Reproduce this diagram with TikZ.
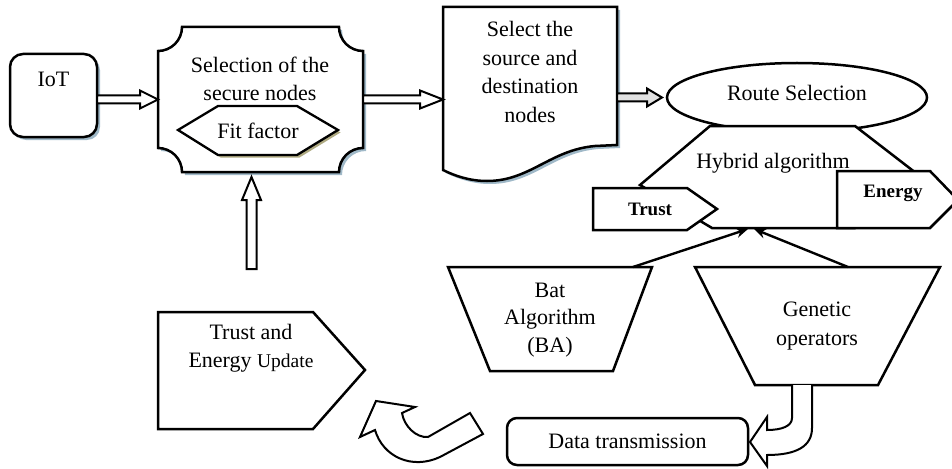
\documentclass[tikz,border=0pt]{standalone}
\usepackage{fontspec}
\setmainfont{Liberation Serif}
\usetikzlibrary{calc,arrows.meta,shapes.geometric}
\definecolor{shadowblue}{RGB}{160,185,200}
\definecolor{shadowolive}{RGB}{175,170,130}
\definecolor{arrowgray}{RGB}{225,225,225}
\newcommand\blockarrowR[4][white]{\draw[harr,fill=#1] let \p1=(#2), \p2=(#3) in (\x1,\y1+4pt) -- (\x2-#4,\y1+4pt) -- (\x2-#4,\y1+9pt) -- (\x2,\y1) -- (\x2-#4,\y1-9pt) -- (\x2-#4,\y1-4pt) -- (\x1,\y1-4pt) -- cycle;}
\begin{document}
\begin{tikzpicture}[x=1pt,y=-1pt,
 shp/.style={draw=black,line width=2.5pt,fill=white,line join=miter},
 bshadow/.style={preaction={fill=shadowblue,transform canvas={xshift=3pt,yshift=-3pt}}},
 oshadow/.style={preaction={fill=shadowolive,transform canvas={xshift=2.5pt,yshift=-2.5pt}}},
 harr/.style={draw=black,line width=2pt,fill=white,line join=miter},
 txt/.style={font=\fontsize{22}{28.5}\selectfont,align=center,inner sep=0pt},
 btxt/.style={font=\fontsize{19}{23}\selectfont\bfseries,inner sep=0pt},
 frame/.style={inner sep=0pt,outer sep=0pt},
 con/.style={line width=2.4pt,-{Stealth[length=12pt,width=10pt]}}
]
\useasboundingbox (0,0) rectangle (952,468);

% IoT
\node[shp,bshadow,rounded corners=13pt,minimum width=87pt,minimum height=83pt,frame,txt,text height=16pt,text depth=33pt] (iot) at (53.5,95.5) {IoT};

% Selection of the secure nodes
\node[frame,minimum width=205pt,minimum height=145pt] (sel) at (260.5,99.5) {};
\draw[shp,bshadow] (182,27) -- (339,27) .. controls (339,40.25) and (349.75,51) .. (363,51) -- (363,148) .. controls (349.75,148) and (339,158.75) .. (339,172) -- (182,172) .. controls (182,158.75) and (171.25,148) .. (158,148) -- (158,51) .. controls (171.25,51) and (182,40.25) .. (182,27) -- cycle;
\node[txt] (seltxt) at (260,79) {Selection of the\\secure nodes};
\draw[shp,oshadow,line width=2.3pt] (178,130) -- (218,106) -- (297,106) -- (338,130) -- (297,155) -- (218,155) -- cycle;
\node[txt] (fit) at (258,131) {Fit factor};

% Document
\node[frame,minimum width=174pt,minimum height=163pt] (doc) at (530,88.5) {};
\draw[shp,bshadow] (443,7) -- (617,7) -- (617,145) -- (595,146) .. controls (550,150) and (530,181) .. (487,181) .. controls (470,181) and (455,176) .. (443,170) -- cycle;
\node[txt] (doctxt) at (530,72) {Select the\\source and\\destination\\nodes};

% Route selection
\node[draw,ellipse,line width=2.5pt,minimum width=260pt,minimum height=69pt,frame] (route) at (797,97.5) {};
\node[txt] (routetxt) at (797,93) {Route Selection};

% Hybrid algorithm
\draw[shp] (710,126) -- (855,126) -- (925,180) -- (855,228) -- (712,228) -- (640,185) -- cycle;
\draw[shp] (593,188) -- (687,188) -- (717,209) -- (687,230) -- (593,230) -- cycle;
\node[btxt] (trust) at (650,209) {Trust};
\draw[shp] (837,171) -- (930,171) -- (958,200) -- (930,228) -- (837,228) -- cycle;
\node[btxt] (energy) at (893,193) {Energy};
\node[txt] (hybtxt) at (773,163) {Hybrid algorithm};
\coordinate (hybin) at (751,229);

% Bat algorithm
\draw[shp] (448,267) -- (652,267) -- (613,371) -- (490,371) -- cycle;
\node[txt,font=\fontsize{22}{27.5}\selectfont] (bat) at (550,320) {Bat\\Algorithm\\(BA)};
\coordinate (batout) at (633,267);

% Genetic operators
\draw[shp] (695,267) -- (940,267) -- (878,385) -- (755,385) -- cycle;
\node[txt] (gen) at (817,326) {Genetic\\operators};
\coordinate (genout) at (848,267);

\draw[con] (batout) -- ($(hybin)+(-3,0)$);
\draw[con] (genout) -- ($(hybin)+(3,0)$);

% Data transmission
\draw[harr] (792,385) -- (792,418) .. controls (792,426) and (782,430) .. (767,430) -- (767,417) -- (750,442) -- (767,466) -- (767,455) .. controls (797,455) and (812,446) .. (812,428) -- (812,385);
\node[shp,rounded corners=10pt,minimum width=241pt,minimum height=47pt,frame,txt] (data) at (627.5,441.5) {Data transmission};

% Trust and Energy Update
\draw[shp] (158,312) -- (313,312) -- (365,370) -- (313,429) -- (158,429) -- cycle;
\node[txt] (updtxt) at (251,348) {Trust and\\Energy {\fontsize{19.5}{28.5}\selectfont Update}};
\draw[harr] (470,413) -- (483,434) -- (440,457) .. controls (412,470) and (383,457) .. (375,430) -- (360,437) -- (376,401) -- (415,407) -- (402,413) .. controls (404,426) and (416,438) .. (428,437) -- cycle;

% Block arrows
\blockarrowR{iot.east |- sel.west}{sel.west}{18pt}
\blockarrowR{sel.east}{doc.west |- sel.east}{23pt}
\blockarrowR[arrowgray]{doc.east |- route.west}{$(route.west)+(-5,0)$}{15pt}
\coordinate (upfoot) at (251.5,269);
\draw[harr] let \p1=(upfoot), \p2=(sel.south) in (\x1-5pt,\y1) -- (\x1-5pt,\y2-28pt) -- (\x1-9.5pt,\y2-28pt) -- (\x1,\y2-5pt) -- (\x1+9.5pt,\y2-28pt) -- (\x1+5pt,\y2-28pt) -- (\x1+5pt,\y1) -- cycle;
\end{tikzpicture}
\end{document}
